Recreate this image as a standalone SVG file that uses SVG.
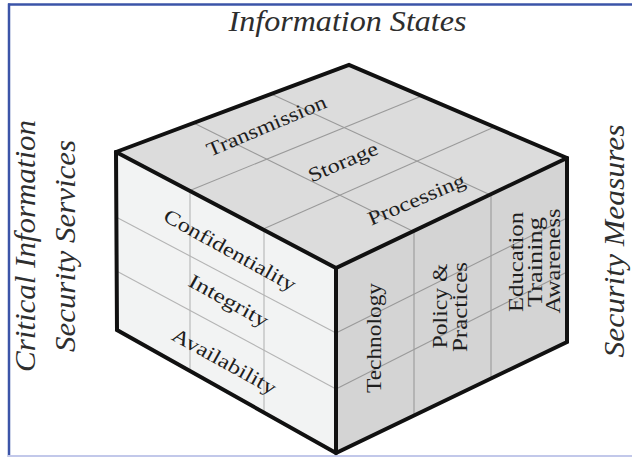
<svg xmlns="http://www.w3.org/2000/svg" width="632" height="459" viewBox="0 0 632 459">
  <style>
    .title { font-family: "Liberation Serif", "DejaVu Serif", serif; font-style: italic; font-size: 29px; fill: #2e2e2e; }
    .lbl { font-family: "Liberation Serif", "DejaVu Serif", serif; font-size: 20px; fill: #1e1e1e; }
    .side { font-family: "Liberation Serif", "DejaVu Serif", serif; font-size: 21px; fill: #1e1e1e; }
    .grid { stroke: #9a9a9a; stroke-width: 1.1; fill: none; }
    .grid-light { stroke: #b4b4b4; stroke-width: 1.1; fill: none; }
    .edge { stroke: #111; stroke-width: 4; fill: none; stroke-linejoin: miter; stroke-linecap: round; }
  </style>

  <rect x="0" y="0" width="632" height="459" fill="#ffffff"/>

  <!-- frame -->
  <g id="frame">
    <line x1="8" y1="4.5" x2="632" y2="4.5" stroke="#3b54a8" stroke-width="2.5"/>
    <line x1="9" y1="3.5" x2="9" y2="457" stroke="#3b54a8" stroke-width="2.5"/>
    <line x1="8" y1="456" x2="632" y2="456" stroke="#c2c8ea" stroke-width="2"/>
  </g>

  <!-- axis titles -->
  <g id="axis-titles">
    <text class="title" x="347.5" y="31" text-anchor="middle" textLength="238" lengthAdjust="spacingAndGlyphs">Information States</text>
    <text class="title" transform="translate(35 246) rotate(-90)" text-anchor="middle" textLength="252" lengthAdjust="spacingAndGlyphs">Critical Information</text>
    <text class="title" transform="translate(75 246) rotate(-90)" text-anchor="middle" textLength="212" lengthAdjust="spacingAndGlyphs">Security Services</text>
    <text class="title" transform="translate(624 241) rotate(-90)" text-anchor="middle" textLength="233" lengthAdjust="spacingAndGlyphs">Security Measures</text>
  </g>

  <!-- top face: information states -->
  <g id="top-face">
    <polygon points="116,152 349,65 567,158 336,268" fill="#dcdcdc"/>
    <line class="grid" x1="193.7" y1="123" x2="413" y2="231.3"/>
    <line class="grid" x1="271.3" y1="94" x2="490" y2="194.7"/>
    <line class="grid" x1="189.3" y1="190.7" x2="421.7" y2="96"/>
    <line class="grid" x1="262.7" y1="229.3" x2="494.3" y2="127"/>
  </g>

  <!-- front-left face: security services -->
  <g id="left-face">
    <polygon points="116,152 336,268 336,453 117,330" fill="#f2f3f3"/>
    <line class="grid-light" x1="190" y1="191" x2="190" y2="371"/>
    <line class="grid-light" x1="264" y1="230" x2="264" y2="412.6"/>
    <line class="grid-light" x1="116" y1="217" x2="336" y2="333"/>
    <line class="grid-light" x1="116.5" y1="271" x2="336" y2="389"/>
  </g>

  <!-- right face: security measures -->
  <g id="right-face">
    <polygon points="336,268 567,158 567,342 336,453" fill="#d4d4d4"/>
    <line class="grid" x1="414" y1="230.9" x2="414" y2="415.5"/>
    <line class="grid" x1="491" y1="194.2" x2="491" y2="378.5"/>
    <line class="grid" x1="336" y1="333" x2="567" y2="218"/>
    <line class="grid" x1="336" y1="389" x2="567" y2="272"/>
  </g>

  <!-- cube edges -->
  <g id="edges">
    <polygon class="edge" points="116,152 349,65 567,158 567,342 336,453 117,330"/>
    <polyline class="edge" points="116,152 336,268 567,158"/>
    <line class="edge" x1="336" y1="268" x2="336" y2="453"/>
  </g>

  <!-- top face labels -->
  <g id="states">
    <text class="lbl" transform="translate(269 132) rotate(-23)" text-anchor="middle" textLength="128" lengthAdjust="spacingAndGlyphs">Transmission</text>
    <text class="lbl" transform="translate(345.5 168) rotate(-23)" text-anchor="middle" textLength="74" lengthAdjust="spacingAndGlyphs">Storage</text>
    <text class="lbl" transform="translate(419 205.5) rotate(-23)" text-anchor="middle" textLength="104" lengthAdjust="spacingAndGlyphs">Processing</text>
  </g>

  <!-- left face labels -->
  <g id="services">
    <text class="lbl" transform="translate(226.6 256) rotate(29)" text-anchor="middle" textLength="148" lengthAdjust="spacingAndGlyphs">Confidentiality</text>
    <text class="lbl" transform="translate(225.5 306.5) rotate(29)" text-anchor="middle" textLength="88" lengthAdjust="spacingAndGlyphs">Integrity</text>
    <text class="lbl" transform="translate(221 367) rotate(29)" text-anchor="middle" textLength="116" lengthAdjust="spacingAndGlyphs">Availability</text>
  </g>

  <!-- right face labels -->
  <g id="measures">
    <text class="side" transform="translate(381 338) rotate(-90)" text-anchor="middle" textLength="110" lengthAdjust="spacingAndGlyphs">Technology</text>
    <text class="side" transform="translate(447 306) rotate(-90)" text-anchor="middle" textLength="85" lengthAdjust="spacingAndGlyphs">Policy &amp;</text>
    <text class="side" transform="translate(467 307) rotate(-90)" text-anchor="middle" textLength="90" lengthAdjust="spacingAndGlyphs">Practices</text>
    <text class="side" transform="translate(523 262) rotate(-90)" text-anchor="middle" textLength="100" lengthAdjust="spacingAndGlyphs">Education</text>
    <text class="side" transform="translate(541.5 262) rotate(-90)" text-anchor="middle" textLength="90" lengthAdjust="spacingAndGlyphs">Training</text>
    <text class="side" transform="translate(560 261) rotate(-90)" text-anchor="middle" textLength="105" lengthAdjust="spacingAndGlyphs">Awareness</text>
  </g>
</svg>
